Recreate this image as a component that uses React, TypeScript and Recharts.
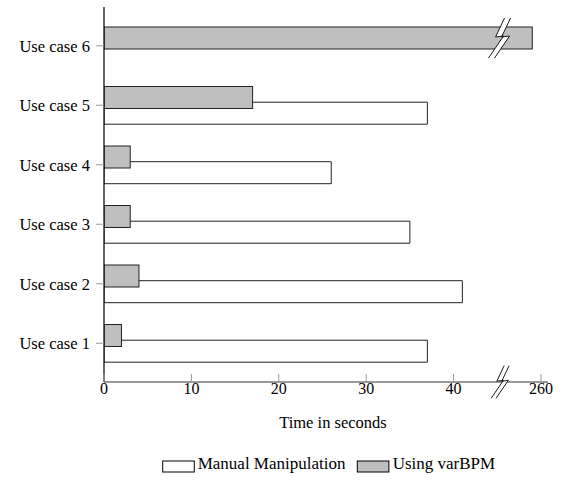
import React from "react";
import { ComposedChart, Bar, XAxis, YAxis } from "recharts";

const categories = ["Use case 1", "Use case 2", "Use case 3", "Use case 4", "Use case 5", "Use case 6"];
const manual = [37, 41, 35, 26, 37, null];
const varBPM = [2, 4, 3, 3, 17, 259];
const seriesNames = ["Manual Manipulation", "Using varBPM"];
const xTickValues = [0, 10, 20, 30, 40, 260];

// broken x axis: everything past the break is shifted left by OFFSET
const AXIS_BREAK = 45.6;
const OFFSET = 210;
const toAxis = (v: number | null) => (v != null && v > AXIS_BREAK ? v - OFFSET : v);
const fromAxis = (v: number) => (v > AXIS_BREAK ? v + OFFSET : v);

const FONT = "'Liberation Serif', 'Times New Roman', serif";
const GRAY = "#bfbfbf";
const EDGE = "#222";

const data = categories.map((name, i) => ({
  name,
  manual: manual[i],
  varBPM: toAxis(varBPM[i]),
  varBPMRaw: varBPM[i],
}));

const BOLT = [
  [5, -20],
  [-4, -1],
  [4, -2],
  [-11, 20],
];

function BreakMark({ cx, cy, s = 1 }: { cx: number; cy: number; s?: number }) {
  const left = BOLT.map(([px, py]) => [cx + (px - 3) * s, cy + py * s]);
  const right = BOLT.map(([px, py]) => [cx + (px + 3) * s, cy + py * s]);
  const pts = (p: number[][]) => p.map((q) => q.join(",")).join(" ");
  return (
    <g>
      <polygon points={pts([...left, ...right.slice().reverse()])} fill="#fff" stroke="none" />
      <polyline points={pts(left)} fill="none" stroke="#000" strokeWidth={0.9} />
      <polyline points={pts(right)} fill="none" stroke="#000" strokeWidth={0.9} />
    </g>
  );
}

function XTick(props: any) {
  const { x, y, payload } = props;
  const v = payload.value;
  if (v === AXIS_BREAK) return <BreakMark cx={x} cy={y} s={0.82} />;
  return (
    <g>
      <line x1={x} x2={x} y1={y} y2={y - 8} stroke="#999" />
      <text x={x} y={y + 12} textAnchor="middle" fontFamily={FONT} fontSize={16} fill="#000">
        {fromAxis(v)}
      </text>
    </g>
  );
}

function GrayBar(props: any) {
  const { x, y, width, height, payload } = props;
  if (!width || !height) return null;
  const broken = payload.varBPMRaw > AXIS_BREAK;
  return (
    <g>
      <rect x={x} y={y} width={width} height={height} fill={GRAY} stroke={EDGE} strokeWidth={1} />
      {broken && (
        <BreakMark cx={x + (width * AXIS_BREAK) / payload.varBPM} cy={y + height / 2} />
      )}
    </g>
  );
}

function AxisTitle(props: any) {
  const vb = props.viewBox;
  return (
    <text
      x={vb.x + vb.width / 2 + 7}
      y={vb.y + 46}
      textAnchor="middle"
      fontFamily={FONT}
      fontSize={16.5}
      fill="#000"
    >
      Time in seconds
    </text>
  );
}

export default function App() {
  const ticks = [...xTickValues.map((v) => toAxis(v) as number), AXIS_BREAK];
  return (
    <div style={{ position: "absolute", left: 0, top: 0, width: 562, height: 481, background: "#fff" }}>
      <ComposedChart
        layout="vertical"
        width={562}
        height={481}
        data={data}
        margin={{ top: 7, right: 14, bottom: 0, left: 0 }}
      >
        <XAxis
          type="number"
          domain={[0, 50.8]}
          allowDataOverflow
          ticks={ticks}
          interval={0}
          tick={<XTick />}
          tickLine={false}
          tickSize={0}
          tickMargin={0}
          axisLine={{ stroke: "#333" }}
          height={99}
          label={{ content: <AxisTitle /> }}
        />
        <YAxis
          yAxisId="labels"
          type="category"
          dataKey="name"
          reversed
          width={104}
          padding={{ top: 9, bottom: 9 }}
          tick={{ fill: "#000", fontSize: 16.5, fontFamily: FONT }}
          tickSize={8}
          tickMargin={6}
          tickLine={{ stroke: "#999" }}
          axisLine={{ stroke: "#000", strokeWidth: 1.2 }}
        />
        <YAxis
          yAxisId="white"
          type="category"
          dataKey="name"
          reversed
          hide
          width={0}
          padding={{ top: 16.7, bottom: 1.3 }}
        />
        <YAxis
          yAxisId="gray"
          type="category"
          dataKey="name"
          reversed
          hide
          width={0}
          padding={{ top: 1, bottom: 17 }}
        />
        <Bar
          yAxisId="white"
          dataKey="manual"
          name={seriesNames[0]}
          barSize={22}
          fill="#fff"
          stroke={EDGE}
          strokeWidth={1}
          isAnimationActive={false}
        />
        <Bar
          yAxisId="gray"
          dataKey="varBPM"
          name={seriesNames[1]}
          barSize={22}
          fill={GRAY}
          shape={<GrayBar />}
          isAnimationActive={false}
        />
      </ComposedChart>
      <svg width={562} height={481} style={{ position: "absolute", left: 0, top: 0, pointerEvents: "none" }}>
        <rect x={162.7} y={461} width={31.6} height={11} fill="#fff" stroke="#000" />
        <text x={197.7} y={469} fontFamily={FONT} fontSize={17} fill="#000">
          {seriesNames[0]}
        </text>
        <rect x={357.3} y={461} width={31.6} height={11} fill={GRAY} stroke="#000" />
        <text x={392.7} y={469} fontFamily={FONT} fontSize={17} fill="#000">
          {seriesNames[1]}
        </text>
      </svg>
    </div>
  );
}
